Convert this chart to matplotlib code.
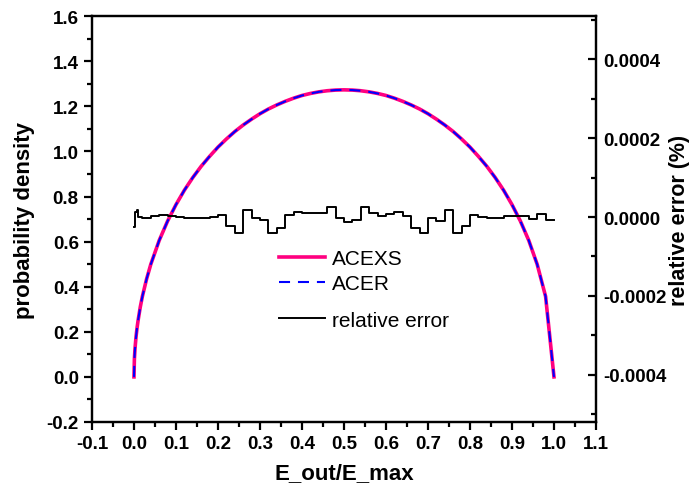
import numpy as np
import matplotlib
matplotlib.use("Agg")
from matplotlib import pyplot as plt
from matplotlib.ticker import MultipleLocator, FormatStrFormatter

plt.rcParams['font.family'] = ['Liberation Sans', 'DejaVu Sans']

# probability density
x_pd = [0.0, 0.001, 0.0025, 0.005, 0.0075, 0.01, 0.015, 0.02, 0.03, 0.04, 0.06,
        0.08, 0.10, 0.12, 0.14, 0.16, 0.18, 0.20, 0.22, 0.24, 0.26, 0.28, 0.30,
        0.32, 0.34, 0.36, 0.38, 0.40, 0.42, 0.44, 0.46, 0.48, 0.50, 0.52, 0.54,
        0.56, 0.58, 0.60, 0.62, 0.64, 0.66, 0.68, 0.70, 0.72, 0.74, 0.76, 0.78,
        0.80, 0.82, 0.84, 0.86, 0.88, 0.90, 0.92, 0.94, 0.96, 0.98, 1.0]
acexs = [0.0, 0.080, 0.127, 0.180, 0.220, 0.253, 0.310, 0.357, 0.434, 0.499,
         0.605, 0.691, 0.764, 0.828, 0.884, 0.934, 0.978, 1.019, 1.055, 1.088,
         1.117, 1.143, 1.167, 1.188, 1.206, 1.222, 1.236, 1.248, 1.257, 1.264,
         1.269, 1.272, 1.273, 1.272, 1.269, 1.264, 1.257, 1.248, 1.236, 1.222,
         1.206, 1.188, 1.167, 1.143, 1.117, 1.088, 1.055, 1.019, 0.978, 0.934,
         0.884, 0.828, 0.764, 0.691, 0.605, 0.499, 0.357, 0.0]
acer = list(acexs)

# relative error (%) per bin
err_edges = [0.0, 0.002, 0.006, 0.01] + list(np.round(np.arange(0.02, 1.001, 0.02), 2))
rel_err = [-2.4e-5, 1.2e-5, 1.8e-5, 0.0,
           -2e-6, 3.5e-6, 6e-6, 2e-6, 0.0, -2.4e-6, -3e-6, -3e-6, 0.0, 6e-6,
           -2.3e-5, -4e-5, 1.85e-5, -2.4e-6, -6.6e-6, -4e-5, -2.7e-5, 6e-6, 1.2e-5, 1e-5,
           1e-5, 1e-5, 2.5e-5, -2.4e-6, -1.3e-5, -6.6e-6, 2.5e-5, 1e-5, 2e-6, 7.6e-6,
           1.4e-5, 3.5e-6, -2.7e-5, -4e-5, -2.4e-6, -1.1e-5, 1.85e-5, -4e-5, -2.3e-5, 6e-6,
           0.0, -2.4e-6, -2.4e-6, 2e-6, 2e-6, 2e-6, -5e-6, 7.6e-6, -6.6e-6]

fig = plt.figure(figsize=(6.89, 4.89), dpi=100)
ax = fig.add_axes([0.1335, 0.135, 0.7315, 0.83])
ax2 = ax.twinx()

l1, = ax.plot(x_pd, acexs, color='#ff0080', lw=2.6, label='ACEXS')
l2, = ax.plot(x_pd, acer, color='#0000ff', lw=1.5, ls=(0, (5.3, 3.8)), label='ACER')
l3, = ax2.step(err_edges, rel_err + [rel_err[-1]], where='post', color='black', lw=1.4,
               label='relative error')

ax.set_xlim(-0.1, 1.1)
ax.set_ylim(-0.2, 1.6)
ax2.set_ylim(-0.00052, 0.00051)

ax.xaxis.set_major_locator(MultipleLocator(0.1))
ax.xaxis.set_minor_locator(MultipleLocator(0.05))
ax.yaxis.set_major_locator(MultipleLocator(0.2))
ax.yaxis.set_minor_locator(MultipleLocator(0.1))
ax2.yaxis.set_major_locator(MultipleLocator(0.0002))
ax2.yaxis.set_minor_locator(MultipleLocator(0.0001))
ax.xaxis.set_major_formatter(FormatStrFormatter('%.1f'))
ax.yaxis.set_major_formatter(FormatStrFormatter('%.1f'))
ax2.yaxis.set_major_formatter(FormatStrFormatter('%.4f'))

for a in (ax, ax2):
    for s in a.spines.values():
        s.set_linewidth(1.6)
ax.tick_params(which='both', direction='out', width=1.6, labelsize=13.5, top=False, right=False)
ax.tick_params(which='major', length=6)
ax.tick_params(which='minor', length=3.5)
ax2.tick_params(which='both', direction='in', width=1.6, labelsize=13.5, pad=5)
ax2.tick_params(which='major', length=6)
ax2.tick_params(which='minor', length=3.5)
for lab in ax.get_xticklabels() + ax.get_yticklabels() + ax2.get_yticklabels():
    lab.set_fontweight('bold')

ax.set_xlabel('E_out/E_max', fontsize=16, fontweight='bold', labelpad=7)
ax.set_ylabel('probability density', fontsize=16, fontweight='bold', labelpad=8)
ax2.set_ylabel('relative error (%)', fontsize=15.5, fontweight='bold', labelpad=2)

leg1 = ax2.legend(handles=[l1, l2], loc='upper left', bbox_to_anchor=(0.39, 0.51),
                  bbox_transform=fig.transFigure, frameon=False, fontsize=15,
                  handlelength=2.2, handletextpad=0.35, labelspacing=0.3, borderpad=0)
ax2.add_artist(leg1)
ax2.legend(handles=[l3], loc='upper left', bbox_to_anchor=(0.39, 0.384),
           bbox_transform=fig.transFigure, frameon=False, fontsize=15,
           handlelength=2.2, handletextpad=0.35, borderpad=0)

fig.savefig('out.png', dpi=100)
